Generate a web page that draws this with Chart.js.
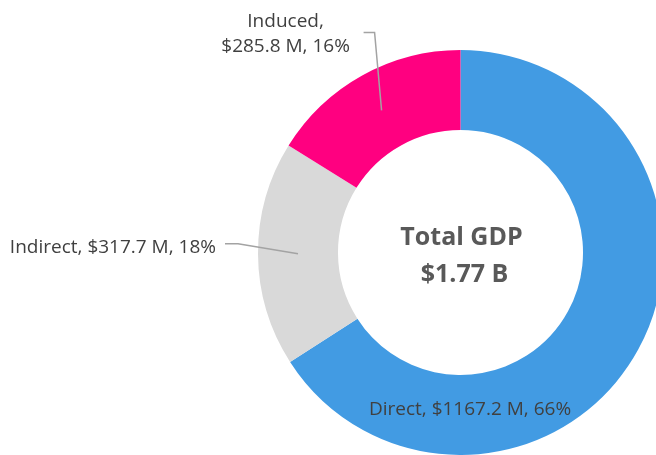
<!DOCTYPE html>
<html>
<head>
<meta charset="utf-8">
<script src="https://cdn.jsdelivr.net/npm/chart.js@4/dist/chart.umd.min.js"></script>
<style>
  html, body { margin: 0; padding: 0; background: #fff; overflow: hidden; }
  #wrap { position: absolute; left: 0; top: 0; width: 663px; height: 455px; }
</style>
</head>
<body>
<div id="wrap"><canvas id="gdp-chart"></canvas></div>
<script>
// data
const categories = ['Direct', 'Indirect', 'Induced'];
const gdpMillions = [1167.2, 317.7, 285.8];
const percentLabels = ['66%', '18%', '16%'];
const centerLines = ['Total GDP', '$1.77 B'];

const sliceColors = ['#429be3', '#d9d9d9', '#ff0080'];
const textColor = '#404040';
const leaderColor = '#a3a3a3';
const labelFont = '19px "Open Sans"';

// where each label goes, relative to the middle of its slice (or chart centre)
const labelPlacement = [
    { mode: 'inside', dx: 9.5, dy: 162.5 },
    { mode: 'left', elbow: [-60, -10], end: [-73, -10] },
    { mode: 'top', elbow: [-7, -78], end: [-18, -78] }
];

function labelText(i) {
    return categories[i] + ', $' + gdpMillions[i].toFixed(1) + ' M, ' + percentLabels[i];
}

const sliceLabels = {
    id: 'sliceLabels',
    afterDraw(chart) {
        const ctx = chart.ctx;
        const meta = chart.getDatasetMeta(0);
        ctx.save();
        ctx.font = labelFont;
        ctx.fillStyle = textColor;
        ctx.strokeStyle = leaderColor;
        ctx.lineWidth = 1.5;
        ctx.textBaseline = 'alphabetic';

        meta.data.forEach((arc, i) => {
            const p = arc.getProps(['x', 'y', 'startAngle', 'endAngle', 'innerRadius', 'outerRadius'], true);
            const mid = (p.startAngle + p.endAngle) / 2;
            const r = (p.innerRadius + p.outerRadius) / 2;
            const sx = p.x + Math.cos(mid) * r;
            const sy = p.y + Math.sin(mid) * r;
            const place = labelPlacement[i];

            if (place.mode === 'inside') {
                ctx.textAlign = 'center';
                ctx.fillText(labelText(i), p.x + place.dx, p.y + place.dy);
                return;
            }

            const ex = sx + place.end[0], ey = sy + place.end[1];
            ctx.beginPath();
            ctx.moveTo(sx, sy);
            ctx.lineTo(sx + place.elbow[0], sy + place.elbow[1]);
            ctx.lineTo(ex, ey);
            ctx.stroke();

            if (place.mode === 'left') {
                ctx.textAlign = 'right';
                ctx.fillText(labelText(i), ex - 9, ey + 9);
            } else {
                ctx.textAlign = 'center';
                ctx.fillText(categories[i] + ',', ex - 78, ey - 5);
                ctx.fillText('$' + gdpMillions[i].toFixed(1) + ' M, ' + percentLabels[i], ex - 78, ey + 20);
            }
        });

        // centre text
        const c = meta.data[0];
        ctx.textAlign = 'center';
        ctx.fillStyle = '#595959';
        ctx.font = 'bold 25px "Open Sans"';
        ctx.fillText(centerLines[0], c.x + 1, c.y - 7.5);
        ctx.fillText(centerLines[1], c.x + 4, c.y + 29.5);
        ctx.restore();
    }
};

new Chart(document.getElementById('gdp-chart'), {
    type: 'doughnut',
    data: {
        labels: categories,
        datasets: [{
            data: gdpMillions,
            backgroundColor: sliceColors,
            borderWidth: 0,
            hoverOffset: 0
        }]
    },
    options: {
        responsive: true,
        maintainAspectRatio: false,
        animation: false,
        cutout: '60.5%',
        layout: { padding: { left: 258, top: 50, right: 0, bottom: 0 } },
        plugins: {
            legend: { display: false },
            tooltip: { enabled: false }
        }
    },
    plugins: [sliceLabels]
});
</script>
</body>
</html>
